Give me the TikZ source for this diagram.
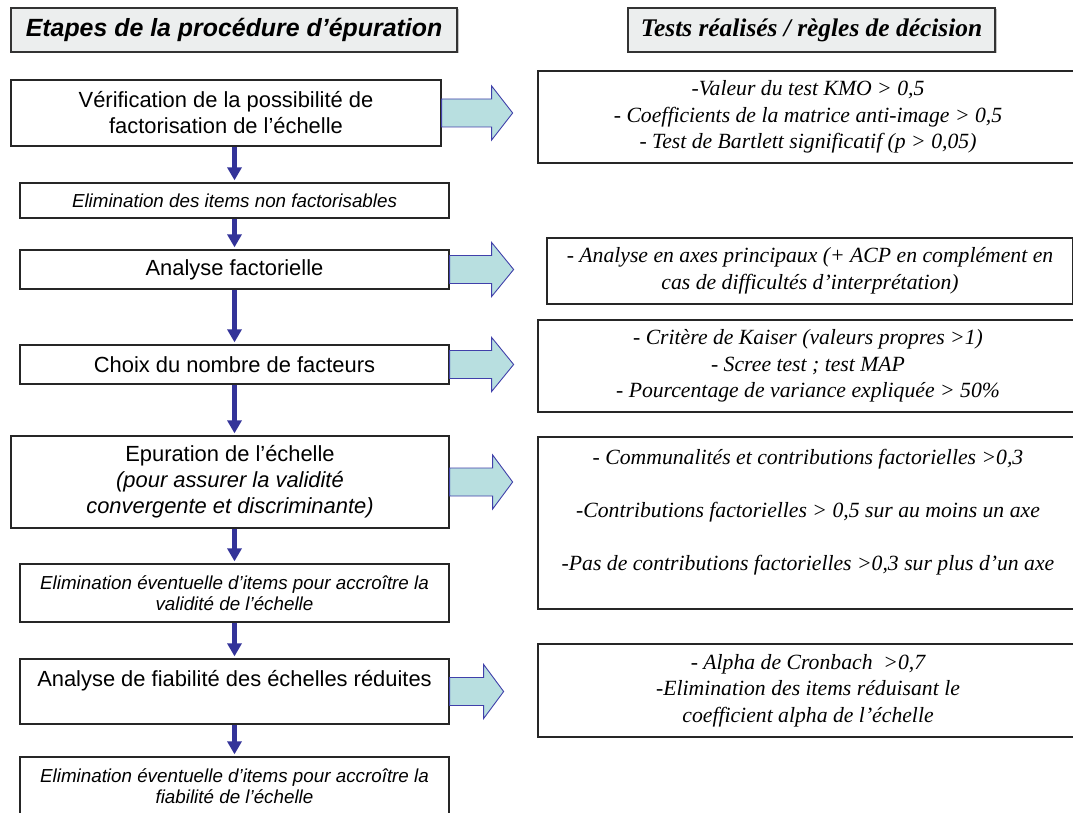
\documentclass[tikz,border=0pt]{standalone}
\usepackage{fontspec}
\setmainfont{Liberation Serif}
\setsansfont{Liberation Sans}
\usepackage{tikz}
\usetikzlibrary{arrows.meta, shadows}

\definecolor{flowblue}{RGB}{51,51,153}
\definecolor{arrowfill}{RGB}{184,223,224}
\definecolor{arrowline}{RGB}{64,64,170}
\definecolor{headgray}{RGB}{236,238,238}

\newcommand{\stepfont}{\sffamily\fontsize{21.9}{26}\selectfont}
\newcommand{\notefont}{\sffamily\itshape\fontsize{18.8}{21.5}\selectfont}
\newcommand{\testfont}{\rmfamily\itshape\fontsize{21.7}{26.5}\selectfont}

\begin{document}
\begin{tikzpicture}[
    x=1pt, y=-1pt,
    header/.style={
        rectangle,
        draw=black!80,
        line width=1.3pt,
        fill=headgray,
        drop shadow={shadow xshift=1.5pt, shadow yshift=-1.5pt, fill=black!45},
        inner sep=0pt,
        minimum height=44pt
    },
    stepbox/.style={
        rectangle,
        draw=black!85,
        line width=1.3pt,
        fill=white,
        align=center,
        inner sep=0pt,
        font=\stepfont
    },
    notebox/.style={
        stepbox,
        font=\notefont
    },
    testbox/.style={
        rectangle,
        draw=black!85,
        line width=1.3pt,
        fill=white,
        align=center,
        inner sep=0pt,
        minimum width=540pt,
        font=\testfont
    },
    downarrow/.style={
        draw=flowblue,
        line width=5pt,
        -{Triangle[width=14pt, length=13pt]},
        shorten >=2pt
    },
    fatarrow/.style={
        draw=arrowline,
        line width=0.9pt,
        fill=arrowfill,
        line join=miter
    }
]
\useasboundingbox (0,0) rectangle (1073,813);

% column headers
\node[header, minimum width=446pt, font=\sffamily\bfseries\itshape\fontsize{24.9}{28}\selectfont]
    (headsteps) at (234,30) {Etapes de la procédure d’épuration};
\node[header, minimum width=367pt, font=\rmfamily\bfseries\itshape\fontsize{25.4}{28}\selectfont]
    (headtests) at (811.5,30) {Tests réalisés / règles de décision};

% steps of the procedure
\node[stepbox, minimum width=430pt, minimum height=66pt] (b1) at (226,113)
    {Vérification de la possibilité de\\factorisation de l’échelle};
\node[notebox, minimum width=429pt, minimum height=35pt] (b2) at (234.5,200.5)
    {Elimination des items non factorisables};
\node[stepbox, minimum width=429pt, minimum height=39pt] (b3) at (234.5,269.5)
    {Analyse factorielle};
\node[stepbox, minimum width=429pt, minimum height=39pt] (b4) at (234.5,364.5)
    {Choix du nombre de facteurs};
\node[stepbox, minimum width=438pt, minimum height=92pt] (b5) at (230,482)
    {Epuration de l’échelle\\\textit{(pour assurer la validité}\\\textit{convergente et discriminante)}};
\node[notebox, minimum width=429pt, minimum height=58pt] (b6) at (234.5,593)
    {Elimination éventuelle d’items pour accroître la\\validité de l’échelle};
\node[stepbox, minimum width=429pt, minimum height=65pt] (b7) at (234.5,691.5)
    {Analyse de fiabilité des échelles réduites\\ \mbox{}};
\node[notebox, minimum width=429pt, minimum height=58pt] (b8) at (234.5,786)
    {Elimination éventuelle d’items pour accroître la\\fiabilité de l’échelle};

% tests and decision rules
\node[testbox, minimum height=92pt] (r1) at (808,117)
    {-Valeur du test KMO > 0,5\\- Coefficients de la matrice anti-image > 0,5\\- Test de Bartlett significatif (p > 0,05)};
\node[testbox, minimum width=526pt, minimum height=66pt] (r2) at (810,271)
    {- Analyse en axes principaux (+ ACP en complément en\\cas de difficultés d’interprétation)};
\node[testbox, minimum height=92pt] (r3) at (808,366)
    {- Critère de Kaiser (valeurs propres >1)\\- Scree test ; test MAP\\- Pourcentage de variance expliquée > 50\%};
\node[testbox, minimum height=172pt] (r5) at (808,523)
    {- Communalités et contributions factorielles >0,3\\ \mbox{}\\-Contributions factorielles > 0,5 sur au moins un axe\\ \mbox{}\\-Pas de contributions factorielles >0,3 sur plus d’un axe\\ \mbox{}};
\node[testbox, minimum height=93pt] (r7) at (808,690.5)
    {- Alpha de Cronbach \ >0,7\\-Elimination des items réduisant le\\coefficient alpha de l’échelle};

% vertical flow
\foreach \a/\b in {b1/b2, b2/b3, b3/b4, b4/b5, b5/b6, b6/b7, b7/b8}
    \draw[downarrow] (\a.south -| b2.north) -- (\b.north -| b2.north);

% block arrows towards the tests
\foreach \n/\len/\head in {b1/50/21, b3/42/22, b4/42/22, b5/43/20, b7/34/20}
    \draw[fatarrow] (\n.east) ++(0,-14) -- ++(\len,0) -- ++(0,-13) -- ++(\head,27)
        -- ++(-\head,27) -- ++(0,-13) -- ++(-\len,0) -- cycle;

\end{tikzpicture}
\end{document}
